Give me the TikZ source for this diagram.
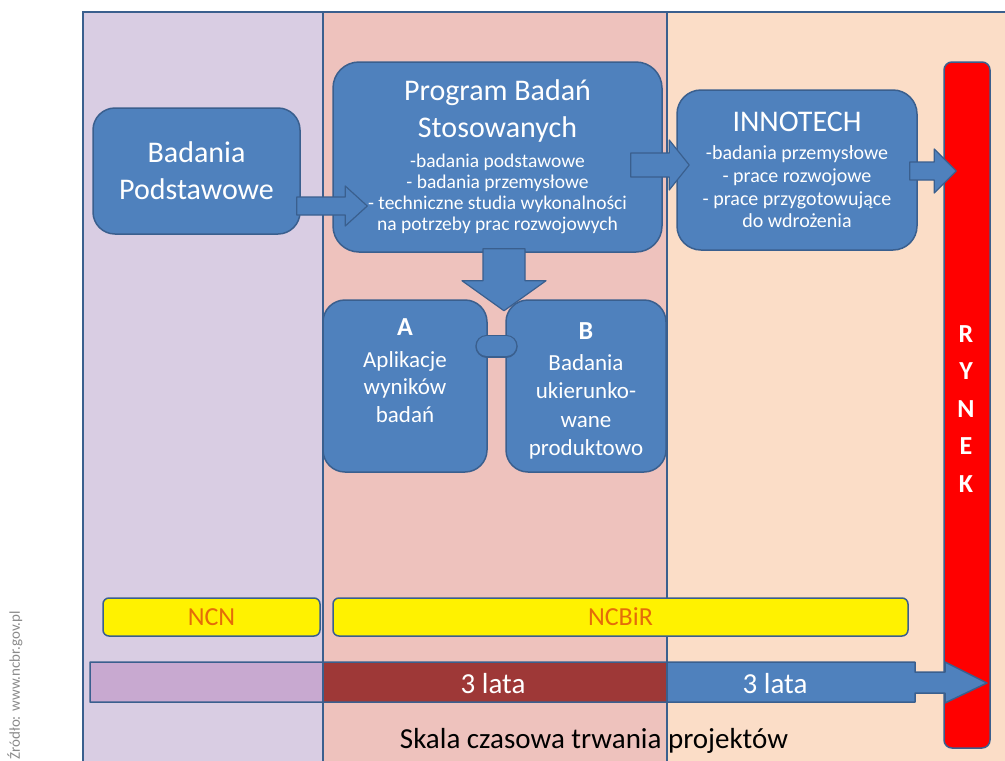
\documentclass[tikz,border=0pt]{standalone}
\usepackage{fontspec}
\setmainfont{Carlito}
\usetikzlibrary{calc}
\definecolor{boxblue}{HTML}{4F81BD}
\definecolor{boxline}{HTML}{3A5F8E}
\definecolor{colpurple}{HTML}{D9CDE3}
\definecolor{colpink}{HTML}{EEC2BD}
\definecolor{colpeach}{HTML}{FBDDC7}
\definecolor{tlpurple}{HTML}{C8A9D0}
\definecolor{tlred}{HTML}{9E3837}
\definecolor{ncnorange}{HTML}{E46C0A}
\definecolor{srcgray}{HTML}{8A8A8A}
\newcommand{\fsz}[2]{\fontsize{#1}{#2}\selectfont}
\newcommand{\myArrowR}[5]{%
  \draw[blockarrow] let \p1=(#1), \p2=(#2) in
   (\x1,\y2+#3) -- (\x2-#5,\y2+#3) -- (\x2-#5,\y2+#4) -- (\x2,\y2) --
   (\x2-#5,\y2-#4) -- (\x2-#5,\y2-#3) -- (\x1,\y2-#3) -- cycle;}
\newcommand{\myArrowD}[5]{%
  \draw[blockarrow] let \p1=(#1), \p2=(#2) in
   (\x2-#3,\y1) -- (\x2-#3,\y2+#5) -- (\x2-#4,\y2+#5) -- (\x2,\y2) --
   (\x2+#4,\y2+#5) -- (\x2+#3,\y2+#5) -- (\x2+#3,\y1) -- cycle;}
\begin{document}
\begin{tikzpicture}[x=1pt,y=-1pt,
  box/.style={draw=boxline, fill=boxblue, line width=1.5pt, rounded corners=22pt, inner sep=0pt},
  blockarrow/.style={draw=boxline, fill=boxblue, line width=1.2pt, line join=round},
  wtxt/.style={text=white, inner sep=0pt, align=center},
  ybar/.style={draw=boxline, fill=yellow, line width=1.5pt, rounded corners=6pt, inner sep=0pt, minimum height=38pt},
  colline/.style={draw=boxline, line width=1.5pt}]
\useasboundingbox (0,0) rectangle (1005,761);
% columns
\fill[colpurple] (83,12) rectangle (323,775);
\fill[colpink] (323,12) rectangle (667,775);
\fill[colpeach] (667,12) rectangle (1012,775);
\draw[colline, line width=2pt] (1012,12) -- (83,12) -- (83,775);
\draw[colline] (323,12) -- (323,775);
\draw[colline] (667,12) -- (667,775);
% source
\node[rotate=90, anchor=east, font=\fsz{15}{18}, text=srcgray, inner sep=0pt] (src) at (15,611) {Źródło: www.ncbr.gov.pl};
% market bar
\node[draw=boxline, fill=red, line width=1.5pt, rounded corners=8pt, minimum width=46pt, minimum height=686pt, inner sep=0pt] (rynek) at (967,405) {};
\node[wtxt, font=\bfseries\fsz{26}{37.5}] (rynektxt) at (966,409) {R\\Y\\N\\E\\K};
% main boxes
\node[box, minimum width=207pt, minimum height=126pt] (bp) at (196.5,171) {};
\node[wtxt, font=\fsz{30}{37}] (bptxt) at (bp.center) {Badania\\Podstawowe};
\node[box, rounded corners=26pt, minimum width=329pt, minimum height=190pt] (pbs) at (497.5,157) {};
\node[box, rounded corners=24pt, minimum width=240pt, minimum height=160pt] (inno) at (797,170) {};
% down arrow
\myArrowD{$(pbs.south)+(6.5,-4)$}{$(pbs.south)+(6.5,58)$}{21pt}{42pt}{30pt}
\node[box, minimum width=164pt, minimum height=172pt] (a) at (405,386) {};
\node[box, minimum width=160pt, minimum height=172pt] (b) at (586,386) {};
\draw[boxline, line width=23pt, line cap=round] ($(a.east)+(-1,-40)$) -- ($(b.west)+(1,-40)$);
\draw[boxblue, line width=20pt, line cap=round] ($(a.east)+(-1,-40)$) -- ($(b.west)+(1,-40)$);
% arrows
\myArrowR{$(bp.east)+(-4,35)$}{$(bp.east -| pbs.west)+(35,35)$}{9pt}{20pt}{22pt}
\myArrowR{$(pbs.east)+(-32,8)$}{$(pbs.east -| inno.west)+(13,8)$}{12pt}{25pt}{20pt}
\myArrowR{$(inno.east)+(-8,1)$}{$(inno.east -| rynek.west)+(13,1)$}{9pt}{22pt}{22pt}
% texts in boxes
\node[wtxt, font=\fsz{30}{37}] (pbstitle) at (497.5,111) {Program Badań\\Stosowanych};
\node[wtxt, font=\fsz{19.5}{21}] (pbsbul) at (497.5,194) {-badania podstawowe\\- badania przemysłowe\\- techniczne studia wykonalności\\na potrzeby prac rozwojowych};
\node[wtxt, font=\fsz{30}{37}] (innotitle) at (797,122) {INNOTECH};
\node[wtxt, font=\fsz{20}{22.7}] (innobul) at (797,187) {-badania przemysłowe\\- prace rozwojowe\\- prace przygotowujące\\do wdrożenia};
\node[wtxt, font=\bfseries\fsz{26}{30}] (alet) at (405,327.5) {A};
\node[wtxt, font=\fsz{23}{27.8}] (atxt) at (405,387) {Aplikacje\\wyników\\badań};
\node[wtxt, font=\bfseries\fsz{26}{30}] (blet) at (586,331.5) {B};
\node[wtxt, font=\fsz{23}{28.3}] (btxt) at (586,407) {Badania\\ukierunko-\\wane\\produktowo};
% yellow bars
\node[ybar, minimum width=217pt] (ncn) at (211.5,617) {};
\node[text=ncnorange, font=\fsz{26}{30}, inner sep=0pt] (ncntxt) at (ncn.center) {NCN};
\node[ybar, minimum width=575pt] (ncbir) at (620.5,617) {};
\node[text=ncnorange, font=\fsz{26}{30}, inner sep=0pt] (ncbirtxt) at (ncbir.center) {NCBiR};
% timeline
\fill[tlpurple] (90,662) rectangle (323,702);
\fill[tlred] (323,662) rectangle (667,702);
\fill[boxblue] (667,662) -- (915,662) -- (915,672) -- (945,672) -- (945,662) -- (987,683) -- (945,703) -- (945,693) -- (915,693) -- (915,702) -- (667,702) -- cycle;
\draw[boxline, line width=1.5pt, line join=round] (90,662) -- (915,662) -- (915,672) -- (945,672) -- (945,662) -- (987,683) -- (945,703) -- (945,693) -- (915,693) -- (915,702) -- (90,702) -- cycle;
\draw[colline] (323,662) -- (323,702);
\draw[colline] (667,662) -- (667,702);
\node[wtxt, font=\fsz{29}{32}] (lata1) at (493,684) {3 lata};
\node[wtxt, font=\fsz{29}{32}] (lata2) at (775,684) {3 lata};
\node[inner sep=0pt, font=\fsz{29}{32}] (skala) at (594,741) {Skala czasowa trwania projektów};
\end{tikzpicture}
\end{document}
